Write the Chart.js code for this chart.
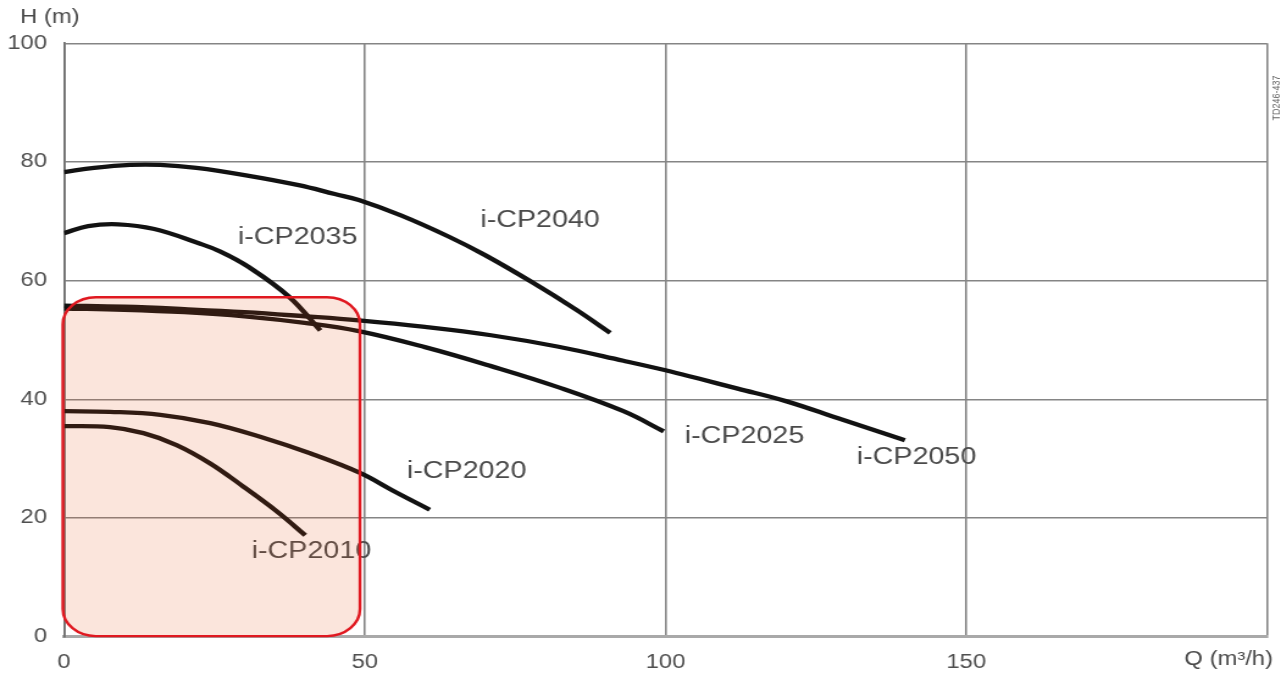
<!DOCTYPE html>
<html>
<head>
<meta charset="utf-8">
<script src="https://cdn.jsdelivr.net/npm/chart.js@4/dist/chart.umd.min.js"></script>
<style>
  html, body { margin: 0; padding: 0; background: #fff; overflow: hidden; }
  #wrap { position: absolute; left: 0; top: 0; width: 1055px; height: 675px;
          transform: scaleX(1.22); transform-origin: 0 0; }
</style>
</head>
<body>
<div id="wrap"><canvas id="c"></canvas></div>
<script>
// ---- Data (Q in m3/h, H in m) ----
const q2040 = [0, 5, 11, 16, 22, 30, 39, 45, 49, 56, 64, 70, 77.7, 85, 90.8];
const h2040 = [78.3, 79.0, 79.5, 79.5, 79.0, 77.8, 76.1, 74.6, 73.6, 71.0, 67.4, 64.3, 59.8, 55.2, 51.2];

const q2035 = [0, 4, 9, 15, 22.4, 26, 30.7, 37.4, 42.6];
const h2035 = [68.0, 69.2, 69.5, 68.7, 66.3, 64.9, 62.3, 57.3, 51.6];

const q2050 = [0, 10, 20, 30, 40, 49, 60, 71, 82, 93, 100, 105.5, 112, 120, 128.7, 139.8];
const h2050 = [55.8, 55.6, 55.2, 54.7, 54.0, 53.3, 52.2, 50.8, 48.9, 46.5, 44.9, 43.5, 41.8, 39.7, 36.8, 33.1];

const q2025 = [0, 10, 20, 30, 40, 49, 60, 71, 82, 93, 99.7];
const h2025 = [55.3, 55.1, 54.7, 54.0, 52.9, 51.5, 48.8, 45.6, 42.1, 38.0, 34.6];

const q2020 = [0, 7.6, 16, 24.3, 32.6, 40.9, 49.2, 54.7, 60.8];
const h2020 = [38.0, 37.9, 37.4, 36.0, 33.7, 30.9, 27.6, 24.6, 21.4];

const q2010 = [0, 7.6, 13.2, 18.7, 24.3, 29.8, 35.4, 40.1];
const h2010 = [35.5, 35.3, 34.3, 32.3, 29.2, 25.3, 21.1, 17.1];

const seriesNames = ['i-CP2040', 'i-CP2035', 'i-CP2050', 'i-CP2025', 'i-CP2020', 'i-CP2010'];
const labelQ = [69.2, 28.9, 131.8, 103.2, 57.0, 31.2];
const labelH = [70.1, 67.2, 30.2, 33.8, 27.8, 14.3];

const xTicks = [0, 50, 100, 150, 200];
const yTicks = [0, 20, 40, 60, 80, 100];

// highlighted operating region (data units)
const zoneQ = [-0.2, 49.2];
const zoneH = [0.1, 57.2];

// ---- Build datasets ----
function pts(qs, hs) { return qs.map((q, i) => ({ x: q, y: hs[i] })); }
const allQ = [q2040, q2035, q2050, q2025, q2020, q2010];
const allH = [h2040, h2035, h2050, h2025, h2020, h2010];
const datasets = seriesNames.map((n, i) => ({
  label: n,
  data: pts(allQ[i], allH[i]),
  borderColor: '#121212',
  borderWidth: 4.3,
  pointRadius: 0,
  tension: 0.4,
  fill: false
}));

const FONT = '"Liberation Sans", Arial, Helvetica, sans-serif';

const curveLabels = {
  id: 'curveLabels',
  afterDatasetsDraw(chart) {
    const ctx = chart.ctx, xs = chart.scales.x, ys = chart.scales.y;
    ctx.save();
    ctx.font = '23.5px ' + FONT;
    ctx.fillStyle = '#4a4a4a';
    ctx.textAlign = 'left';
    ctx.textBaseline = 'middle';
    seriesNames.forEach((n, i) => {
      ctx.fillText(n, xs.getPixelForValue(labelQ[i]), ys.getPixelForValue(labelH[i]));
    });
    ctx.restore();
  }
};

const overlay = {
  id: 'overlay',
  afterDraw(chart) {
    const ctx = chart.ctx, xs = chart.scales.x, ys = chart.scales.y;
    const x0 = xs.getPixelForValue(zoneQ[0]), x1 = xs.getPixelForValue(zoneQ[1]);
    const y0 = ys.getPixelForValue(zoneH[1]), y1 = ys.getPixelForValue(zoneH[0]);
    ctx.save();
    ctx.beginPath();
    ctx.roundRect(x0, y0, x1 - x0, y1 - y0, 27);
    ctx.fillStyle = 'rgba(228,82,22,0.15)';
    ctx.fill();
    ctx.lineWidth = 2.4;
    ctx.strokeStyle = '#e01820';
    ctx.stroke();
    ctx.restore();

    // axis titles and drawing reference
    ctx.save();
    ctx.fillStyle = '#4a4a4a';
    ctx.font = '19.5px ' + FONT;
    ctx.textBaseline = 'middle';
    ctx.textAlign = 'left';
    ctx.fillText('H (m)', 16.4, 17.3);
    ctx.textAlign = 'right';
    ctx.fillText('Q (m\u00B3/h)', 1043.4, 660);
    ctx.translate(1046.8, 98);
    ctx.rotate(-Math.PI / 2);
    ctx.font = '9px ' + FONT;
    ctx.textAlign = 'center';
    ctx.fillStyle = '#666';
    ctx.fillText('TD246-437', 0, 0);
    ctx.restore();
  }
};

new Chart(document.getElementById('c'), {
  type: 'line',
  data: { datasets },
  options: {
    responsive: true,
    maintainAspectRatio: false,
    animation: false,
    events: [],
    layout: { padding: { top: 43.3, right: 16.5, left: 0, bottom: 0 } },
    plugins: { legend: { display: false }, tooltip: { enabled: false } },
    scales: {
      x: {
        type: 'linear',
        min: 0, max: 200,
        afterBuildTicks(scale) { scale.ticks = xTicks.map(v => ({ value: v })); },
        afterFit(scale) { scale.height = 38.3; },
        grid: { color: '#858585', lineWidth: 1.6, drawTicks: false },
        border: { display: true, color: '#a9a9a9', width: 3 },
        ticks: {
          padding: 14,
          color: '#4f4f4f',
          font: { family: FONT, size: 19.5 },
          callback: v => (v === 200 ? '' : String(v)),
          maxRotation: 0
        }
      },
      y: {
        type: 'linear',
        min: 0, max: 100,
        afterBuildTicks(scale) { scale.ticks = yTicks.map(v => ({ value: v })); },
        afterFit(scale) { scale.width = 52.5; },
        grid: { color: '#858585', lineWidth: 1.6, drawTicks: false },
        border: { display: true, color: '#707070', width: 1.8 },
        ticks: {
          padding: 14,
          color: '#4f4f4f',
          font: { family: FONT, size: 19.5 }
        }
      }
    }
  },
  plugins: [curveLabels, overlay]
});
</script>
</body>
</html>
